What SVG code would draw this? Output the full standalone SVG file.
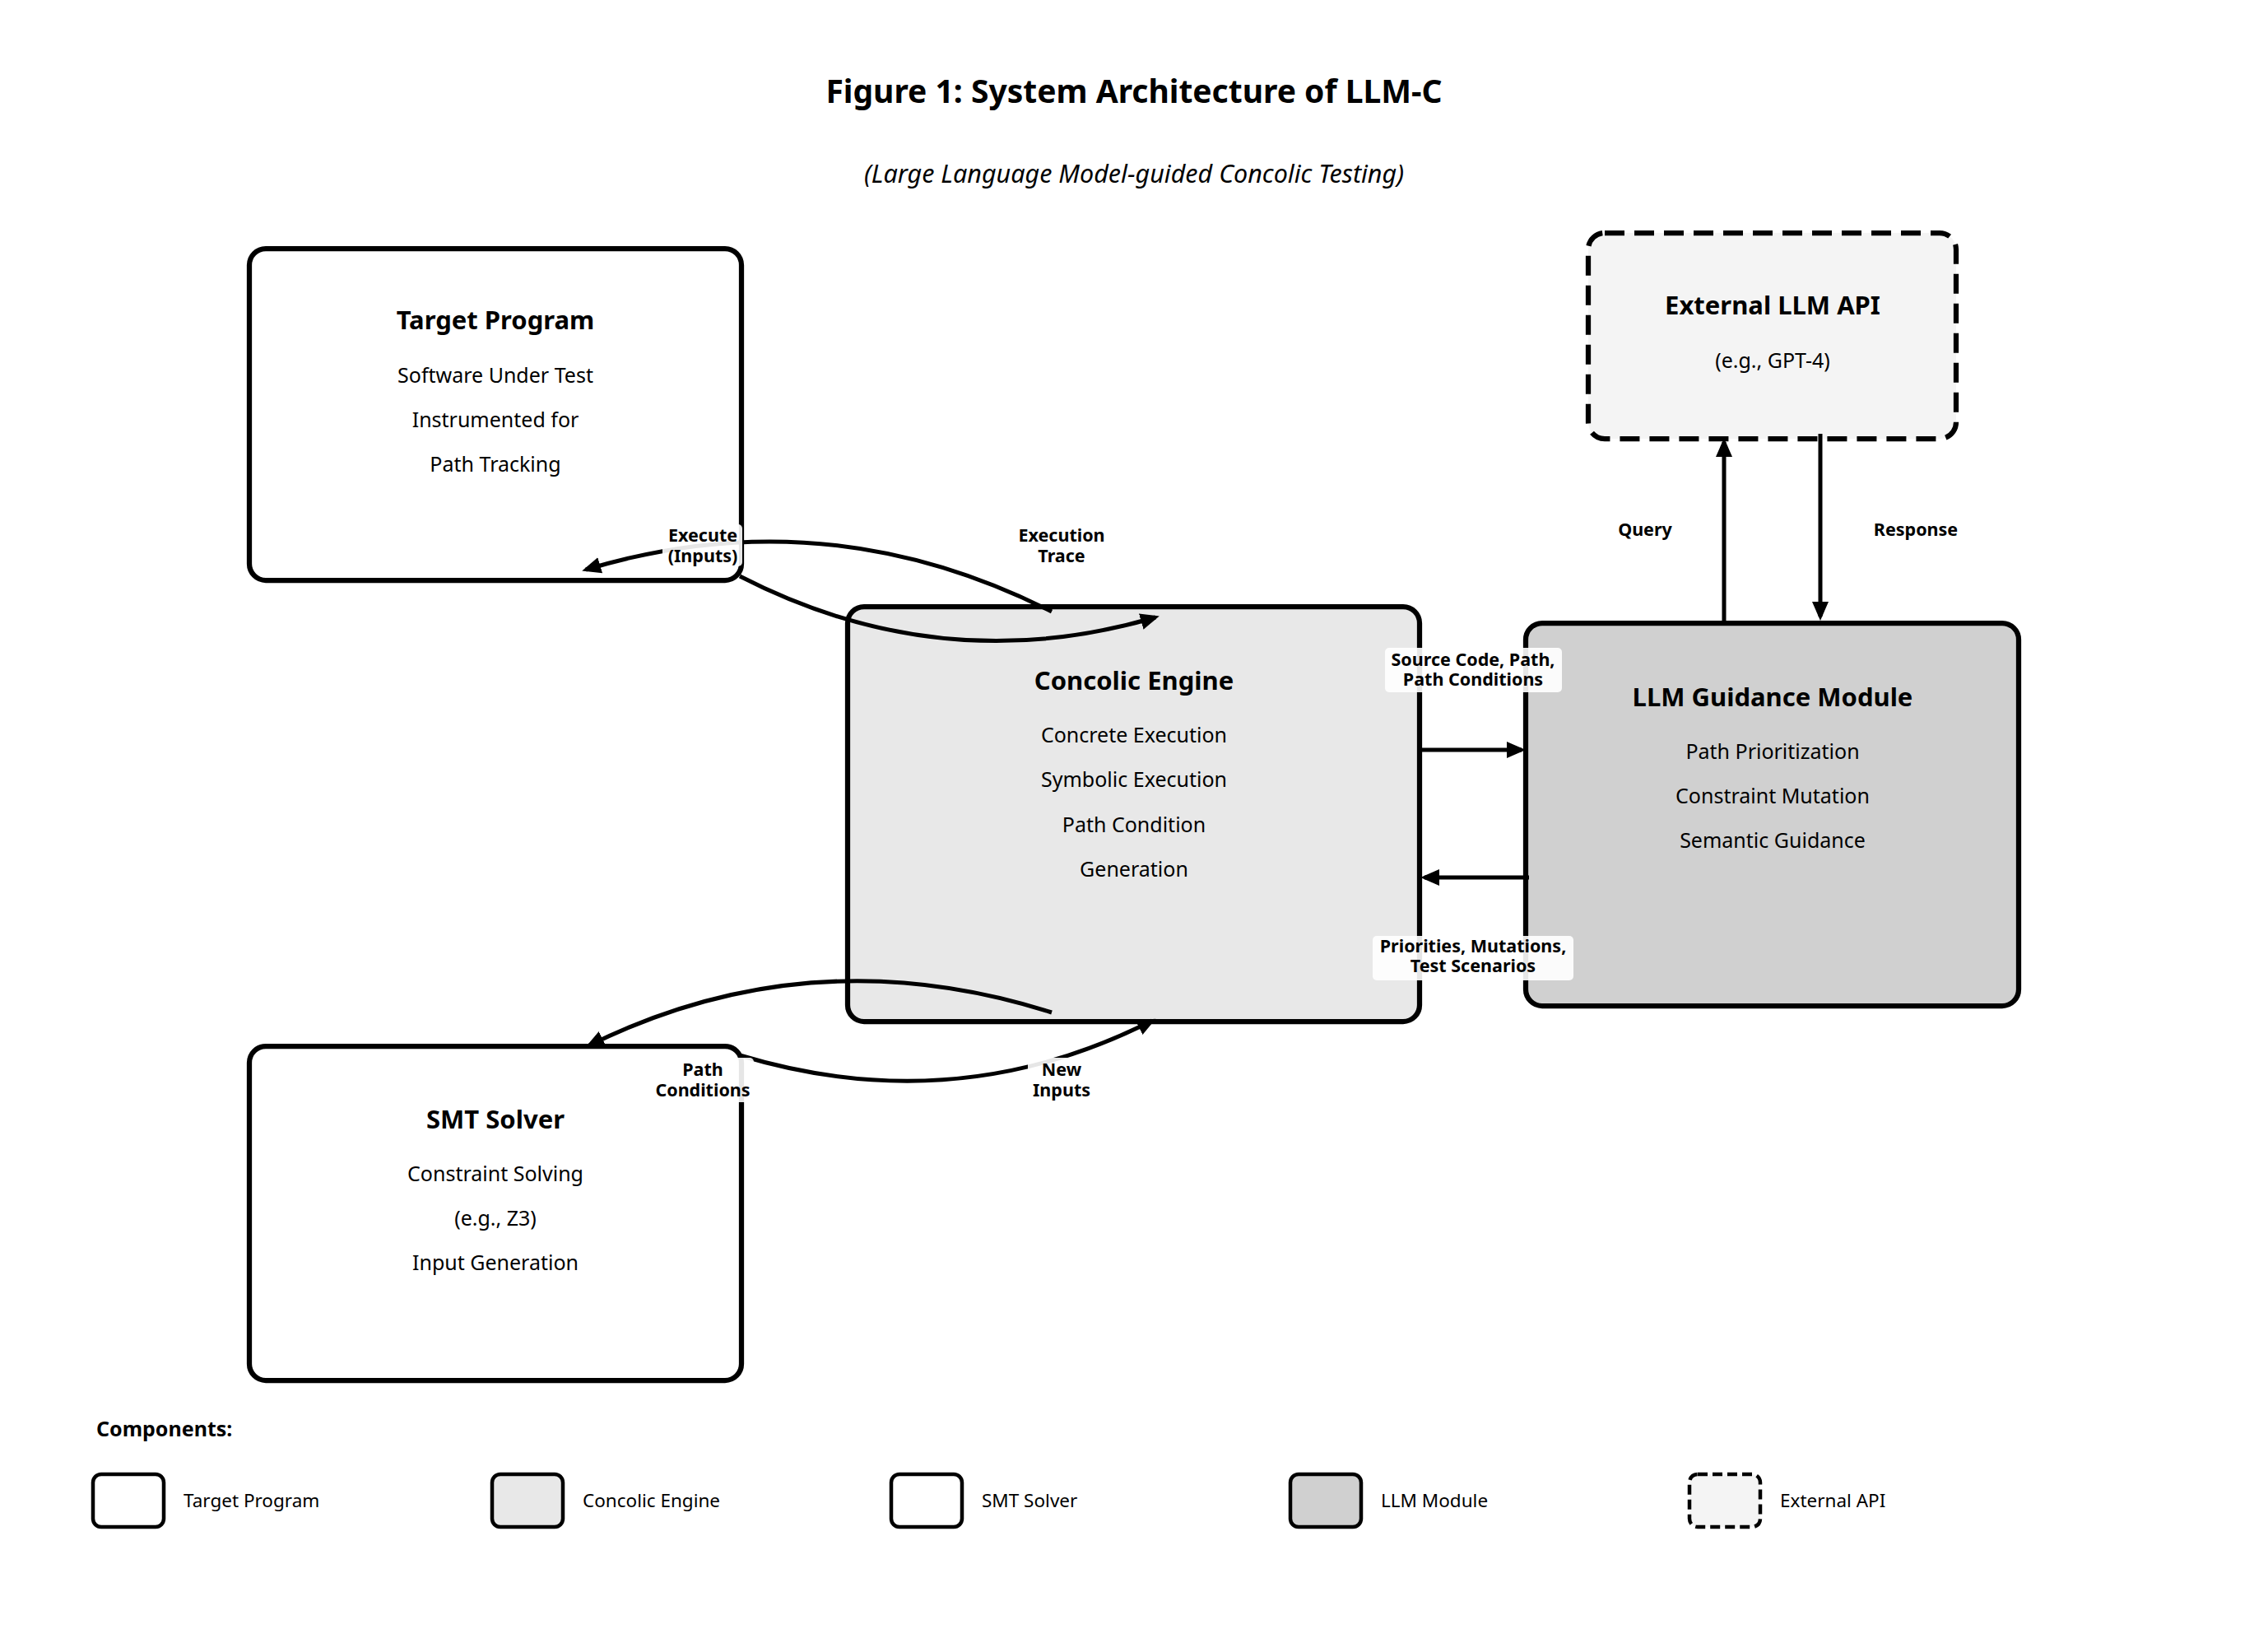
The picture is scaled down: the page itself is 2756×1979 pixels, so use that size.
<svg xmlns="http://www.w3.org/2000/svg" width="2756" height="1979" viewBox="0 0 2756 1979">
<defs>
<marker id="ah" markerUnits="userSpaceOnUse" markerWidth="24" markerHeight="22" viewBox="0 0 24 22" refX="18" refY="11" orient="auto">
<path d="M0,1 L23,11 L0,21 z" fill="#000"/>
</marker>
</defs>
<style>
text{font-family:"Noto Sans","Open Sans","DejaVu Sans",sans-serif;fill:#000;text-anchor:middle}
.title{font-size:39px;font-weight:bold}
.sub{font-size:30.5px;font-style:italic}
.nt{font-size:31px;font-weight:bold}
.nb{font-size:25px}
.box{stroke:#000;stroke-width:6.25}
.el{font-size:21.5px;font-weight:bold}
.lbg{fill:#fff;fill-opacity:0.9}
.edge{fill:none;stroke:#000;stroke-width:5;marker-end:url(#ah)}
.lg{stroke:#000;stroke-width:4.5}
.lt{font-size:22.5px;text-anchor:start}
</style>
<rect width="2756" height="1979" fill="#fff"/>
<text class="title" x="1378" y="125">Figure 1: System Architecture of LLM-C</text>
<text class="sub" x="1378" y="222">(Large Language Model-guided Concolic Testing)</text>

<g id="target">
<rect class="box" x="303" y="302" width="598" height="403" rx="20" fill="#fff"/>
<text class="nt" x="602" y="400">Target Program</text>
<text class="nb" x="602" y="465">Software Under Test</text>
<text class="nb" x="602" y="519">Instrumented for</text>
<text class="nb" x="602" y="573">Path Tracking</text>
</g>
<g id="concolic">
<rect class="box" x="1030" y="737" width="695" height="504" rx="20" fill="#e8e8e8"/>
<text class="nt" x="1378" y="838">Concolic Engine</text>
<text class="nb" x="1378" y="902">Concrete Execution</text>
<text class="nb" x="1378" y="956">Symbolic Execution</text>
<text class="nb" x="1378" y="1011">Path Condition</text>
<text class="nb" x="1378" y="1065">Generation</text>
</g>
<g id="smt">
<rect class="box" x="303" y="1271" width="598" height="406" rx="20" fill="#fff"/>
<text class="nt" x="602" y="1371">SMT Solver</text>
<text class="nb" x="602" y="1435">Constraint Solving</text>
<text class="nb" x="602" y="1489">(e.g., Z3)</text>
<text class="nb" x="602" y="1543">Input Generation</text>
</g>
<g id="llm">
<rect class="box" x="1854" y="757" width="599" height="465" rx="20" fill="#d0d0d0"/>
<text class="nt" x="2154" y="858">LLM Guidance Module</text>
<text class="nb" x="2154" y="922">Path Prioritization</text>
<text class="nb" x="2154" y="976">Constraint Mutation</text>
<text class="nb" x="2154" y="1030">Semantic Guidance</text>
</g>
<g id="external">
<rect class="box" x="1930" y="283" width="447" height="250" rx="20" fill="#f4f4f4" stroke-dasharray="24 12"/>
<text class="nt" x="2154" y="382">External LLM API</text>
<text class="nb" x="2154" y="447">(e.g., GPT-4)</text>
</g>

<g id="connectors">
<path class="edge" d="M1278,743 Q1003,604 712,692"/>
<path class="edge" d="M899,700 Q1144,826 1404,750"/>
<path class="edge" d="M1278,1230 Q986,1137 716,1270"/>
<path class="edge" d="M899,1282 Q1161,1361 1400,1240"/>
<path class="edge" d="M1723,911 L1849,911"/>
<path class="edge" d="M1858,1066 L1731,1066"/>
<path class="edge" d="M2095,760 L2095,537"/>
<path class="edge" d="M2212,527 L2212,749"/>
</g>

<g id="edge-labels">
<rect class="lbg" x="805" y="637" width="97" height="51" rx="5"/>
<text class="el" x="854" y="658">Execute</text>
<text class="el" x="854" y="683">(Inputs)</text>
<rect class="lbg" x="1240" y="637" width="100" height="51" rx="5"/>
<text class="el" x="1290" y="658">Execution</text>
<text class="el" x="1290" y="683">Trace</text>
<rect class="lbg" x="1683" y="787" width="215" height="54" rx="5"/>
<text class="el" x="1790" y="809">Source Code, Path,</text>
<text class="el" x="1790" y="833">Path Conditions</text>
<rect class="lbg" x="1668" y="1137" width="244" height="54" rx="5"/>
<text class="el" x="1790" y="1157">Priorities, Mutations,</text>
<text class="el" x="1790" y="1181">Test Scenarios</text>
<rect class="lbg" x="792" y="1285" width="124" height="54" rx="5"/>
<text class="el" x="854" y="1307">Path</text>
<text class="el" x="854" y="1332">Conditions</text>
<rect class="lbg" x="1249" y="1285" width="82" height="54" rx="5"/>
<text class="el" x="1290" y="1307">New</text>
<text class="el" x="1290" y="1332">Inputs</text>
<text class="el" x="1999" y="651">Query</text>
<text class="el" x="2328" y="651">Response</text>
</g>

<g id="legend">
<text x="117" y="1745" style="font-size:25px;font-weight:bold;text-anchor:start">Components:</text>
<rect class="lg" x="113" y="1791" width="86" height="64" rx="10" fill="#fff"/>
<text class="lt" x="223" y="1831">Target Program</text>
<rect class="lg" x="598" y="1791" width="86" height="64" rx="10" fill="#e8e8e8"/>
<text class="lt" x="708" y="1831">Concolic Engine</text>
<rect class="lg" x="1083" y="1791" width="86" height="64" rx="10" fill="#fff"/>
<text class="lt" x="1193" y="1831">SMT Solver</text>
<rect class="lg" x="1568" y="1791" width="86" height="64" rx="10" fill="#d0d0d0"/>
<text class="lt" x="1678" y="1831">LLM Module</text>
<rect class="lg" x="2053" y="1791" width="86" height="64" rx="10" fill="#f4f4f4" stroke-dasharray="12 6"/>
<text class="lt" x="2163" y="1831">External API</text>
</g>
</svg>
